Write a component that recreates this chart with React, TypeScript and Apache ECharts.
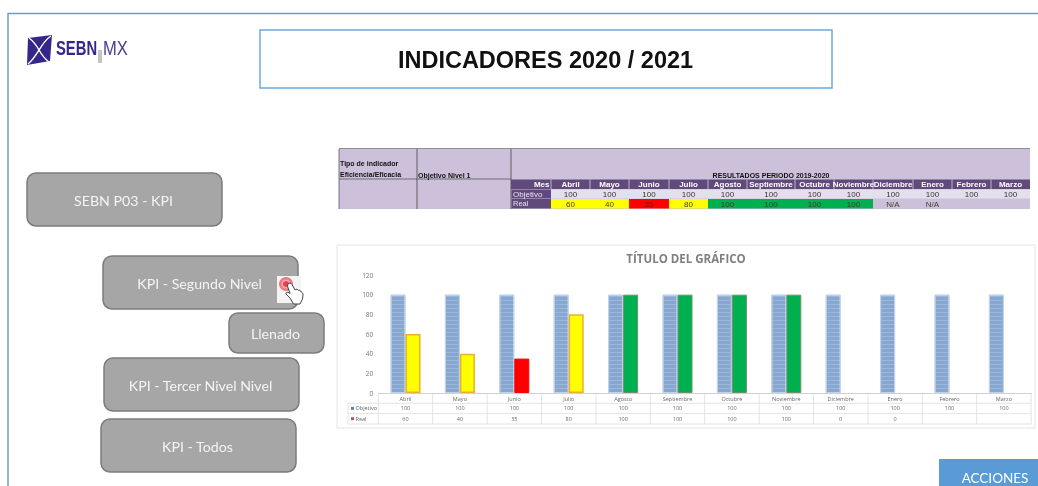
import React, { useEffect, useRef } from "react";
import * as echarts from "echarts";

const months = ["Abril", "Mayo", "Junio", "Julio", "Agosto", "Septiembre", "Octubre", "Noviembre", "Diciembre", "Enero", "Febrero", "Marzo"];
const objetivo = [100, 100, 100, 100, 100, 100, 100, 100, 100, 100, 100, 100];
const real: (number | null)[] = [60, 40, 35, 80, 100, 100, 100, 100, 0, 0, null, null];
const yTicks = { min: 0, max: 120, interval: 20 };

const topCols = [551, 590, 629, 669, 708, 747, 795, 834, 873, 913, 952, 991, 1030];
const buttons = [
  { label: "SEBN P03 - KPI", x: 27, y: 173, w: 195, h: 53 },
  { label: "KPI - Segundo Nivel", x: 103, y: 256, w: 195, h: 53 },
  { label: "Llenado", x: 229, y: 313, w: 95, h: 40 },
  { label: "KPI - Tercer Nivel Nivel", x: 104, y: 358, w: 195, h: 53 },
  { label: "KPI - Todos", x: 101, y: 419, w: 195, h: 53 },
];

const GRID = { left: 378.3, top: 275, width: 652.8, height: 118 };
const YELLOW = "#ffff00", RED = "#ff0000", GREEN = "#00b050";
const statusColor = (v: number | null) => (v === null || v === 0 ? null : v >= 100 ? GREEN : v < 40 ? RED : YELLOW);
const statusBorder = (v: number | null) => (v === null || v === 0 ? "transparent" : v >= 100 ? "#6f8f6a" : v < 40 ? "#ff0000" : "#eeae2a");

echarts.graphic.registerShape(
  "handIcon",
  echarts.graphic.extendPath(
    "M10 7 C11 5.5 13 5.5 14 7.5 L17 13 C18 12 20 12 20.5 13.5 C21.5 13 23 13.5 23 15 C24 15 25 16 25 18 L24.5 22 L22 27 L15.5 27 L12 21 L8 17 C7.5 15 10 14.5 12 16.5 L9.5 9 Z",
    {}
  )
);

function text(t: string, x: number, y: number, font: string, fill: string, align = "center", extra: any = {}) {
  return {
    type: "text",
    silent: true,
    x,
    y,
    ...extra,
    style: { text: t, x: 0, y: 0, font, fill, textAlign: align, textVerticalAlign: "middle", align, verticalAlign: "middle" },
  };
}
function rect(x: number, y: number, width: number, height: number, fill: string, stroke = "none", lineWidth = 0, r = 0) {
  return { type: "rect", silent: true, shape: { x, y, width, height, r }, style: { fill, stroke, lineWidth } };
}
function line(x1: number, y1: number, x2: number, y2: number, stroke: string, lineWidth = 1) {
  return { type: "line", silent: true, shape: { x1, y1, x2, y2 }, style: { stroke, lineWidth } };
}

function buildGraphics() {
  const g: any[] = [];
  g.push(line(8, 13.5, 1038, 13.5, "#6d9cc4", 1.5), line(8, 13, 8, 486, "#6d9cc4", 1.5));
  g.push(rect(260, 30, 572, 58, "#fff", "#6fa8dc", 1.5));
  g.push(text("INDICADORES 2020 / 2021", 545.5, 60, "bold 23.5px 'Liberation Sans'", "#111111"));
  g.push({ type: "polygon", silent: true, shape: { points: [[28, 38], [52, 35], [50, 61], [27, 65]] }, style: { fill: "#35268a" } });
  g.push({ type: "bezierCurve", silent: true, shape: { x1: 29, y1: 38, x2: 49, y2: 62, cpx1: 40, cpy1: 46, cpx2: 38, cpy2: 54 }, style: { stroke: "#fff", lineWidth: 1.4, fill: "none" } });
  g.push({ type: "bezierCurve", silent: true, shape: { x1: 51, y1: 36, x2: 28, y2: 64, cpx1: 41, cpy1: 42, cpx2: 38, cpy2: 56 }, style: { stroke: "#fff", lineWidth: 1.4, fill: "none" } });
  g.push(text("SEBN", 56, 48, "bold 20px 'Liberation Sans'", "#35268a", "left", { scaleX: 0.74 }));
  g.push(rect(98, 50, 4, 13, "#c4c4c4"));
  g.push(text("MX", 103, 48, "20px 'Liberation Sans'", "#4a3c96", "left", { scaleX: 0.83 }));
  buttons.forEach((b) => {
    g.push(rect(b.x, b.y, b.w, b.h, "#a6a6a6", "#7c7c7c", 1.5, 9));
    g.push(text(b.label, b.x + b.w / 2 - 1, b.y + b.h / 2 + 0.5, "14.2px Lato", "#f4f4f4"));
  });
  g.push(rect(277, 276, 24, 27, "#f4f4f4"));
  g.push({ type: "circle", silent: true, shape: { cx: 286, cy: 284, r: 7 }, style: { fill: "#ee7a80" } });
  g.push({ type: "circle", silent: true, shape: { cx: 286, cy: 284, r: 4.5 }, style: { fill: "#f4a8ac" } });
  g.push({ type: "circle", silent: true, shape: { cx: 286, cy: 284, r: 3 }, style: { fill: "#e2444e" } });
  g.push({ type: "handIcon", silent: true, x: 278, y: 277, style: { fill: "#ffffff", stroke: "#444444", lineWidth: 1 } });
  g.push(rect(939, 459, 99, 27, "#5b9bd5"));
  g.push(text("ACCIONES", 995, 478, "13.5px Lato", "#ffffff"));

  const tf = "bold 7px 'Liberation Sans'";
  g.push(rect(339, 149, 691, 60, "#ccc0da"));
  g.push(line(339, 148.5, 1030, 148.5, "#8f8f8f", 1));
  g.push(line(339, 179, 511, 179, "#555555", 0.8));
  g.push(line(339, 149, 339, 209, "#555555", 0.8), line(417, 149, 417, 209, "#444444", 0.8), line(511, 149, 511, 209, "#444444", 0.8));
  g.push(text("Tipo de indicador", 340, 163.5, tf, "#111", "left"));
  g.push(text("Eficiencia/Eficacia", 340, 174.5, tf, "#111", "left"));
  g.push(text("Objetivo Nivel 1", 418, 175, tf, "#111", "left"));
  g.push(text("RESULTADOS PERIODO 2019-2020", 771, 175, tf, "#111"));
  const lab = topCols[0];
  g.push(rect(511, 179.5, 519, 9.5, "#604a7b"));
  g.push(rect(lab, 189.5, 1030 - lab, 9, "#e4dfec"));
  g.push(rect(511.5, 189.5, lab - 511.5, 9, "#604a7b"));
  g.push(rect(511.5, 199, lab - 511.5, 9.5, "#604a7b"));
  g.push(text("Mes", lab - 1.5, 184.5, "bold 8px 'Liberation Sans'", "#ffffff", "right"));
  g.push(text("Objetivo", 513, 194, "8px 'Liberation Sans'", "#e8e4ee", "left"));
  g.push(text("Real", 513, 203.5, "7.5px 'Liberation Sans'", "#e8e4ee", "left"));
  months.forEach((m, i) => {
    const x0 = topCols[i], x1 = topCols[i + 1], cx = (x0 + x1) / 2;
    g.push(line(x0, 179.5, x0, 189, "#e4dfec", 0.7));
    g.push(text(m, cx, 184.5, "bold 8px 'Liberation Sans'", "#ffffff"));
    g.push(text(String(objetivo[i]), cx, 194, "8px 'Liberation Sans'", "#333"));
    const v = real[i];
    const c = statusColor(v);
    if (c) g.push(rect(x0, 199, x1 - x0, 9.5, c));
    if (v !== null) g.push(text(v === 0 ? "N/A" : String(v), cx, 204, "8px 'Liberation Sans'", c === RED ? "#8a1010" : "#3d3d2a"));
  });

  g.push(rect(337, 245, 698, 183, "#ffffff", "#e3e3e3", 1));
  g.push(text("TÍTULO DEL GRÁFICO", 686, 258, "bold 11.5px 'Open Sans'", "#7f7f7f"));

  const cw = GRID.width / months.length;
  const bottom = GRID.top + GRID.height;
  const lineC = "#dcdcdc";
  const rows = [bottom, bottom + 10.3, bottom + 20.6, bottom + 31];
  g.push(line(348, rows[1], GRID.left + GRID.width, rows[1], lineC, 0.8));
  g.push(line(348, rows[2], GRID.left + GRID.width, rows[2], lineC, 0.8));
  g.push(line(348, rows[3], GRID.left + GRID.width, rows[3], lineC, 0.8));
  g.push(line(348, rows[1], 348, rows[3], lineC, 0.8));
  g.push(line(GRID.left + GRID.width, rows[0], GRID.left + GRID.width, rows[3], lineC, 0.8));
  months.forEach((_, i) => {
    g.push(line(GRID.left + cw * i, rows[0], GRID.left + cw * i, rows[3], lineC, 0.8));
  });
  const tableFont = "5.5px 'Open Sans'";
  g.push(rect(351, rows[1] + 3.6, 3, 3, "#5b84bd"));
  g.push(rect(351, rows[2] + 3.6, 3, 3, "#c0504d"));
  g.push(text("Objetivo", 355.5, rows[1] + 5, tableFont, "#666", "left"));
  g.push(text("Real", 355.5, rows[2] + 5, tableFont, "#666", "left"));
  months.forEach((_, i) => {
    const cx = GRID.left + cw * (i + 0.5);
    g.push(text(String(objetivo[i]), cx, rows[1] + 5, tableFont, "#666"));
    if (real[i] !== null) g.push(text(String(real[i]), cx, rows[2] + 5, tableFont, "#666"));
  });
  return g;
}

export default function App() {
  const ref = useRef<HTMLDivElement>(null);
  useEffect(() => {
    const chart = echarts.init(ref.current!, undefined, { renderer: "svg" });
    chart.setOption({
      animation: false,
      backgroundColor: "#ffffff",
      grid: { ...GRID, containLabel: false },
      xAxis: {
        type: "category",
        data: months,
        axisLine: { lineStyle: { color: "#d0d0d0", width: 1 } },
        axisTick: { show: false },
        axisLabel: { fontFamily: "Open Sans", fontSize: 5.5, color: "#666", margin: 3, interval: 0 },
      },
      yAxis: {
        type: "value",
        min: yTicks.min,
        max: yTicks.max,
        interval: yTicks.interval,
        axisLine: { show: false },
        axisTick: { show: false },
        splitLine: { show: false },
        axisLabel: { fontFamily: "Open Sans", fontSize: 6.5, color: "#777", margin: 5 },
      },
      graphic: { elements: buildGraphics() },
      series: [
        {
          name: "Objetivo",
          type: "bar",
          data: objetivo,
          barWidth: 15,
          barGap: "0%",
          itemStyle: {
            color: "#88a7d0",
            borderColor: "#bdd2ec",
            borderWidth: 1,
            decal: {
              symbol: "rect",
              symbolSize: 1,
              dashArrayX: [[40, 0]],
              dashArrayY: [1, 3],
              rotation: 0,
              color: "rgba(205,220,240,0.3)",
            },
          },
        },
        {
          name: "Real",
          type: "bar",
          barWidth: 15,
          data: real.map((v) => ({
            value: v,
            itemStyle: { color: statusColor(v) ?? "transparent", borderColor: statusBorder(v), borderWidth: v !== null && v > 35 && v < 100 ? 1.5 : 1 },
          })),
        },
      ],
    });
    return () => chart.dispose();
  }, []);
  return <div ref={ref} style={{ position: "fixed", left: 0, top: 0, width: 1038, height: 486, filter: "blur(0.35px)" }} />;
}
